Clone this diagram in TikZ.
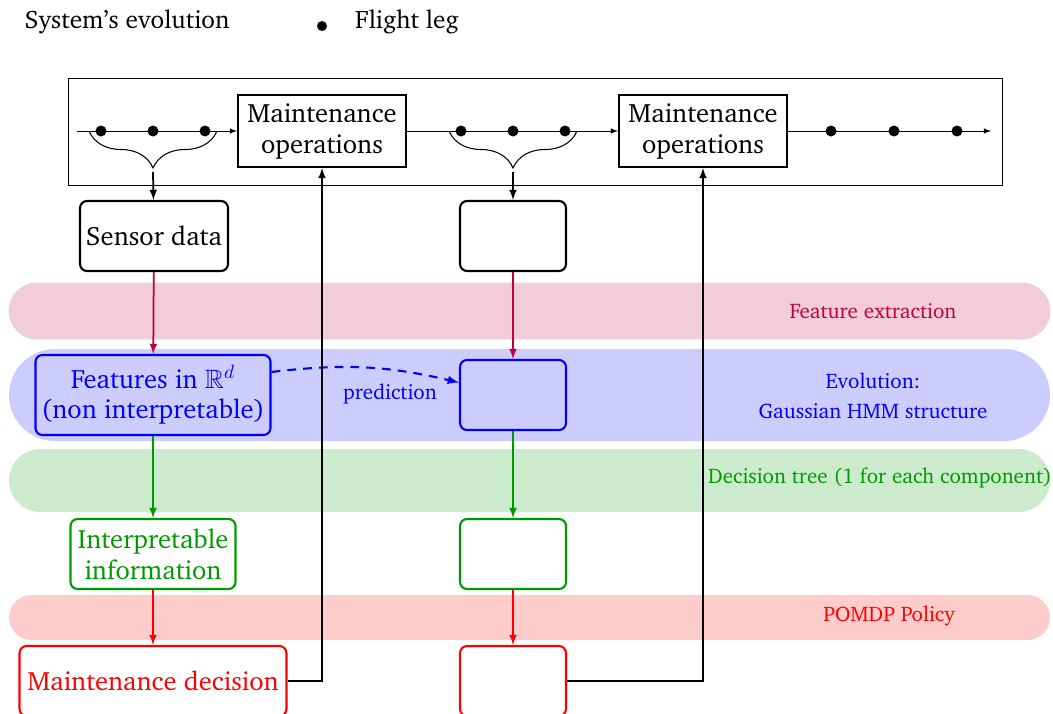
\documentclass[tikz,border=0pt]{standalone}
\usepackage{amsmath}
\usepackage{amssymb}
\usepackage[T1]{fontenc}
\usepackage{charter}
\usetikzlibrary{arrows,decorations.pathreplacing}

\begin{document}
\begin{tikzpicture}[x=0.02cm,y=-0.02cm,
    stepbox/.style={draw, line width=1.2pt, rounded corners=4pt, minimum height=1.4cm, align=center, font=\fontsize{15.1}{17.6}\selectfont},
    opbox/.style={draw, line width=1.2pt, minimum width=3.36cm, minimum height=1.44cm, align=center, font=\fontsize{15.1}{17.6}\selectfont},
    flow/.style={line width=1pt, -latex}]

\useasboundingbox (0,0) rectangle (1053,713);

% legend
\node[font=\Large] (legsys) at (127,22) {System's evolution};
\fill (322,26) circle (5);
\node[font=\Large] (legleg) at (407,22) {Flight leg};

% bands
\fill[purple!20, draw=black!15, rounded corners=0.56cm] (9,283) rectangle (1050,339);
\fill[blue!20, rounded corners=0.92cm] (9,349) rectangle (1050,441);
\fill[green!60!black!20, rounded corners=0.63cm] (9,449) rectangle (1050,512);
\fill[red!20, rounded corners=0.45cm] (9,595) rectangle (1050,640);

\node[purple, font=\large] (featlbl) at (873,311) {Feature extraction};
\node[blue, font=\large, align=center] (evollbl) at (873,396) {Evolution:\\[3pt] Gaussian HMM structure};
\node[green!60!black, font=\large] (treelbl) at (880,478) {Decision tree (1 for each component)};
\node[red, font=\large] (pollbl) at (889,616) {POMDP Policy};

% system's evolution
\draw (68,78) rectangle (1002,185);
\node[opbox] (MO1) at (322,131) {Maintenance\\operations};
\node[opbox] (MO2) at (703,131) {Maintenance\\operations};

\coordinate (start) at (77,131);
\coordinate (end) at (991,131);
\draw[-latex] (start) -- (MO1.west);
\draw[-latex] (MO1.east) -- (MO2.west);
\draw[-latex] (MO2.east) -- (end);

\foreach \x in {101,153,205,461,513,565,831,894,957}
    \fill (\x,131) circle (5.5);

\draw[semithick, decorate, decoration={brace, mirror, amplitude=0.74cm}] (89,131) -- (217,131);
\draw[semithick, decorate, decoration={brace, mirror, amplitude=0.74cm}] (449,131) -- (577,131);
\coordinate (tip1) at (153,172);
\coordinate (tip2) at (513,172);

% first column
\node[stepbox, minimum width=2.96cm] (sd1) at (154,236) {Sensor data};
\node[stepbox, blue, minimum width=4.64cm, minimum height=1.6cm] (feat1) at (153,395) {Features in $\mathbb{R}^d$\\(non interpretable)};
\node[stepbox, green!60!black, minimum width=3.3cm] (int1) at (153,554) {Interpretable\\information};
\node[stepbox, red, minimum width=5.34cm] (dec1) at (153,681) {Maintenance decision};

% second column
\node[stepbox, minimum width=2.12cm] (sd2) at (513,236) {};
\node[stepbox, blue, minimum width=2.12cm] (feat2) at (513,395) {};
\node[stepbox, green!60!black, minimum width=2.12cm] (int2) at (513,554) {};
\node[stepbox, red, minimum width=2.12cm] (dec2) at (513,681) {};

\draw[flow] (tip1) -- (sd1);
\draw[flow] (tip2) -- (sd2);

\foreach \c in {1,2} {
    \draw[flow, purple] (sd\c) -- (feat\c);
    \draw[flow, green!60!black] (feat\c) -- (int\c);
    \draw[flow, red] (int\c) -- (dec\c);
}

\draw[line width=1.2pt, blue, dash pattern=on 5pt off 4pt, -latex] (feat1.11) to[bend left=10] (feat2.167);
\node[blue, font=\large] (predlbl) at (390,394) {prediction};

% feedback
\draw[flow] (dec1.east) -| (MO1.south);
\draw[flow] (dec2.east) -| (MO2.south);

\end{tikzpicture}
\end{document}
